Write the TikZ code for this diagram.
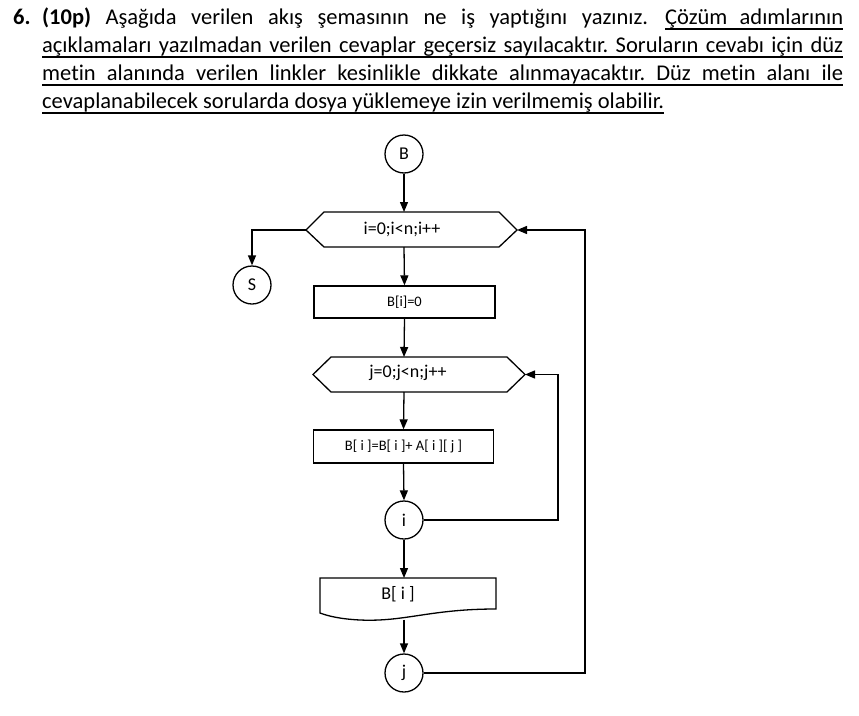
\documentclass[tikz,border=0pt]{standalone}
\usepackage{fontspec}
\setmainfont{Carlito}[Ligatures=NoCommon]
\usetikzlibrary{arrows.meta}
\frenchspacing
\tikzset{
  txt/.style={anchor=base west,inner sep=0pt,font=\fontsize{22.5}{27}\selectfont},
  uline/.style={line width=1.3pt},
  shp/.style={draw,line width=1.3pt},
  conn/.style={shp,circle,minimum size=38pt,inner sep=0pt,font=\fontsize{18}{21}\selectfont},
  box/.style={shp,rectangle,inner sep=0pt,font=\fontsize{14.5}{17}\selectfont},
  lbl/.style={inner sep=0pt,font=\fontsize{18}{21}\selectfont},
  arr/.style={line width=1.3pt,-{Triangle[length=10pt,width=8pt]}},
  ln/.style={line width=1.3pt}
}
\begin{document}
\begin{tikzpicture}[x=1pt,y=-1pt]
\useasboundingbox (0,0) rectangle (859,715);
% header text
\node[txt] (t6) at (13,24) {\textbf{6.}};
\node[txt] (t1a) at (42,24) {\makebox[606pt][s]{\textbf{(10p)} Aşağıda verilen akış şemasının ne iş yaptığını yazınız.}};
\node[txt] (t1b) at (665,24) {\makebox[178pt][s]{Çözüm adımlarının}};
\node[txt] (t2) at (42,52) {\makebox[801pt][s]{açıklamaları yazılmadan verilen cevaplar geçersiz sayılacaktır. Soruların cevabı için düz}};
\node[txt] (t3) at (42,80) {\makebox[801pt][s]{metin alanında verilen linkler kesinlikle dikkate alınmayacaktır. Düz metin alanı ile}};
\node[txt] (t4) at (42,108) {cevaplanabilecek sorularda dosya yüklemeye izin verilmemiş olabilir.};
\foreach \t in {t1b,t2,t3,t4}
  \draw[uline] ([yshift=-5pt]\t.base west) -- ([yshift=-5pt]\t.base east);

% flowchart
\node[conn] (B) at (404,154) {B};
\node[conn] (S) at (252,285) {S};

% hexagon 1
\coordinate (h1L) at (306,230);
\coordinate (h1R) at (517,230);
\coordinate (h1T) at (404,212);
\coordinate (h1B) at (404,247);
\draw[shp] (h1L) -- (324,212) -- (499,212) -- (h1R) -- (499,247) -- (324,247) -- cycle;
\node[lbl] (h1) at (402,229) {i=0;i<n;i++};

\node[box,minimum width=181pt,minimum height=32pt] (r1) at (404.5,302) {B[i]=0};

% hexagon 2
\coordinate (h2L) at (313,374.5);
\coordinate (h2R) at (525,374.5);
\coordinate (h2T) at (404,357);
\coordinate (h2B) at (404,392);
\draw[shp] (h2L) -- (331,357) -- (507,357) -- (h2R) -- (507,392) -- (331,392) -- cycle;
\node[lbl] (h2) at (408,373) {j=0;j<n;j++};

\node[box,minimum width=180pt,minimum height=33pt] (r2) at (403.5,446.5) {B[ i ]=B[ i ]+ A[ i ][ j ]};

\node[conn] (ci) at (404,520) {i};

% document shape
\coordinate (dT) at (404,578);
\coordinate (dB) at (404,619.5);
\draw[shp] (320,578) -- (496,578) -- (496,609)
  .. controls (430,609) and (405,622) .. (360,620)
  .. controls (340,619) and (328,616) .. (320,613) -- cycle;
\node[lbl] (d) at (398,594) {B[ i ]};

\node[conn] (cj) at (404,673) {j};

% loop-back corners
\coordinate (lp2) at (558,374.5);
\coordinate (lp1) at (585,230);

% connectors
\draw[arr] (B.south) -- (h1T);
\draw[arr] (h1L) -| (S.north);
\draw[arr] (h1B) -- (r1.north);
\draw[arr] (r1.south) -- (h2T);
\draw[arr] (h2B) -- (r2.north);
\draw[arr] (r2.south) -- (ci.north);
\draw[arr] (ci.south) -- (dT);
\draw[arr] (dB) -- (cj.north);
\draw[arr] (ci.east) -- (ci.east -| lp2) -- (lp2) -- (h2R);
\draw[arr] (cj.east) -- (cj.east -| lp1) -- (lp1) -- (h1R);
\end{tikzpicture}
\end{document}
